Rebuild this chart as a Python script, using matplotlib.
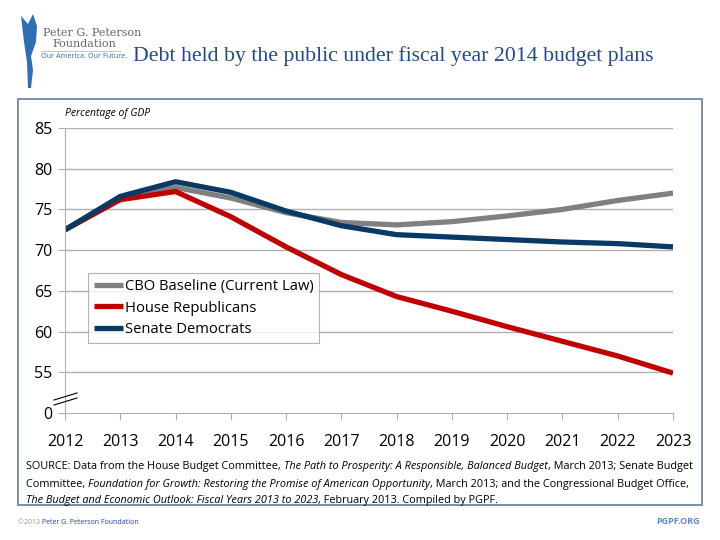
import matplotlib
matplotlib.use("Agg")
import matplotlib.pyplot as plt
from matplotlib.patches import Rectangle, Polygon
from matplotlib.lines import Line2D

# -------- Data (percentage of GDP) --------
years = [2012, 2013, 2014, 2015, 2016, 2017, 2018, 2019, 2020, 2021, 2022, 2023]
cbo_baseline = [72.5, 76.3, 77.7, 76.4, 74.6, 73.4, 73.1, 73.5, 74.2, 75.0, 76.1, 77.0]
house_rep = [72.5, 76.2, 77.2, 74.1, 70.4, 67.0, 64.3, 62.5, 60.6, 58.8, 57.0, 54.9]
senate_dem = [72.5, 76.6, 78.4, 77.1, 74.8, 73.0, 71.9, 71.6, 71.3, 71.0, 70.8, 70.4]

series_names = ["CBO Baseline (Current Law)", "House Republicans", "Senate Democrats"]
y_ticks = [50, 55, 60, 65, 70, 75, 80, 85]
y_tick_labels = ["0", "55", "60", "65", "70", "75", "80", "85"]

# -------- Styles --------
GRAY = "#808080"
RED = "#C00000"
NAVY = "#0A3A63"
TITLE_BLUE = "#24498A"
FRAME = "#6F86A8"
GRID = "#B0B0B0"
FONT = "Open Sans"

W, H = 720, 540
fig = plt.figure(figsize=(7.2, 5.4), dpi=100)


def fx(px):
    return px / W


def fy(py):
    return 1 - py / H


# ======================================================
# Header: logo + title
# ======================================================
torch = Polygon([[fx(21), fy(16)], [fx(28), fy(24)], [fx(33), fy(14)], [fx(37), fy(26)],
                 [fx(36), fy(42)], [fx(31), fy(56)], [fx(33), fy(70)], [fx(31), fy(88)],
                 [fx(28), fy(88)], [fx(27), fy(62)], [fx(24), fy(42)]],
                closed=True, transform=fig.transFigure, facecolor="#2F6DB5", edgecolor="none")
fig.patches.append(torch)
fig.text(fx(43), fy(33), "Peter G. Peterson", fontsize=8, family="DejaVu Serif",
         color="#666666", va="center", ha="left")
fig.text(fx(52), fy(44), "Foundation", fontsize=8, family="DejaVu Serif",
         color="#666666", va="center", ha="left")
fig.add_artist(Line2D([fx(41), fx(121)], [fy(51), fy(51)], transform=fig.transFigure,
                      color="#BBBBBB", lw=0.6))
fig.text(fx(41), fy(57), "Our America. Our Future.", fontsize=5.2, family=FONT,
         color="#2F6DB5", va="center", ha="left")
fig.text(fx(133), fy(56), "Debt held by the public under fiscal year 2014 budget plans",
         fontsize=15.7, family="Liberation Serif", color=TITLE_BLUE, va="center", ha="left")

# ======================================================
# Outer frame
# ======================================================
fig.patches.append(Rectangle((fx(18), fy(505)), fx(702) - fx(18), fy(99) - fy(505),
                             transform=fig.transFigure, fill=False, edgecolor=FRAME, lw=1.3))

# ======================================================
# Chart
# ======================================================
ax = fig.add_axes([fx(65), fy(413), fx(673) - fx(65), fy(128) - fy(413)])
ax.plot(years, cbo_baseline, color=GRAY, lw=3.8, label=series_names[0], solid_capstyle="butt")
ax.plot(years, house_rep, color=RED, lw=3.8, label=series_names[1], solid_capstyle="butt")
ax.plot(years, senate_dem, color=NAVY, lw=3.8, label=series_names[2], solid_capstyle="butt")

ax.set_xlim(2012, 2023)
ax.set_ylim(50, 85)
ax.set_xticks(years)
ax.set_xticklabels([str(y) for y in years], fontsize=11.5, family=FONT)
ax.set_yticks(y_ticks)
ax.set_yticklabels(y_tick_labels, fontsize=11.5, family=FONT)
ax.tick_params(axis="x", length=5, color=GRID, pad=10)
ax.tick_params(axis="y", length=5, color=GRID, pad=4)
for y in y_ticks[1:]:
    ax.axhline(y, color=GRID, lw=1, zorder=0)
for s in ["top", "right"]:
    ax.spines[s].set_visible(False)
ax.spines["left"].set_color(GRID)
ax.spines["bottom"].set_color(GRID)

ax.text(0.0, 1.03, "Percentage of GDP", transform=ax.transAxes, fontsize=7.5,
        family=FONT, style="italic", ha="left", va="bottom")

# axis break marks
for off in (0, 5):
    fig.add_artist(Line2D([fx(54), fx(77)], [fy(400 + off), fy(393 + off)],
                          transform=fig.transFigure, color="black", lw=0.8))

leg = ax.legend(loc="upper left", bbox_to_anchor=(fx(88 - 65) / (fx(673) - fx(65)),
                                                    (fy(273) - fy(413)) / (fy(128) - fy(413))),
                frameon=True, fancybox=False, prop={"family": FONT, "size": 10.6},
                handlelength=2.0, handletextpad=0.1, borderpad=0.4, labelspacing=0.45,
                borderaxespad=0)
leg.get_frame().set_edgecolor("#A0A0A0")
leg.get_frame().set_linewidth(0.8)

# ======================================================
# Source note with mixed italics
# ======================================================
source_lines = [
    [("SOURCE: Data from the House Budget Committee, ", "normal"),
     ("The Path to Prosperity: A Responsible, Balanced Budget", "italic"),
     (", March 2013; Senate Budget", "normal")],
    [("Committee, ", "normal"),
     ("Foundation for Growth: Restoring the Promise of American Opportunity", "italic"),
     (", March 2013; and the Congressional Budget Office,", "normal")],
    [("The Budget and Economic Outlook: Fiscal Years 2013 to 2023", "italic"),
     (", February 2013. Compiled by PGPF.", "normal")],
]
renderer = fig.canvas.get_renderer()
for i, segs in enumerate(source_lines):
    x = fx(26)
    y = fy(467 + i * 17)
    for txt, st in segs:
        t = fig.text(x, y, txt, fontsize=7.8, family=FONT, style=st, ha="left", va="center")
        bb = t.get_window_extent(renderer)
        x += bb.width / W

# ======================================================
# Footer
# ======================================================
t1 = fig.text(fx(18), fy(522), "\u00a92013 ", fontsize=5, family=FONT, color="#999999",
              va="center", ha="left")
bb = t1.get_window_extent(renderer)
fig.text(fx(18) + bb.width / W, fy(522), "Peter G. Peterson Foundation", fontsize=5,
         family=FONT, color="#1F3FBF", va="center", ha="left")
fig.text(fx(700), fy(522), "PGPF.ORG", fontsize=6.5, family=FONT, weight="bold",
         color="#5B8BC8", va="center", ha="right")

fig.savefig("out.png", dpi=100)
